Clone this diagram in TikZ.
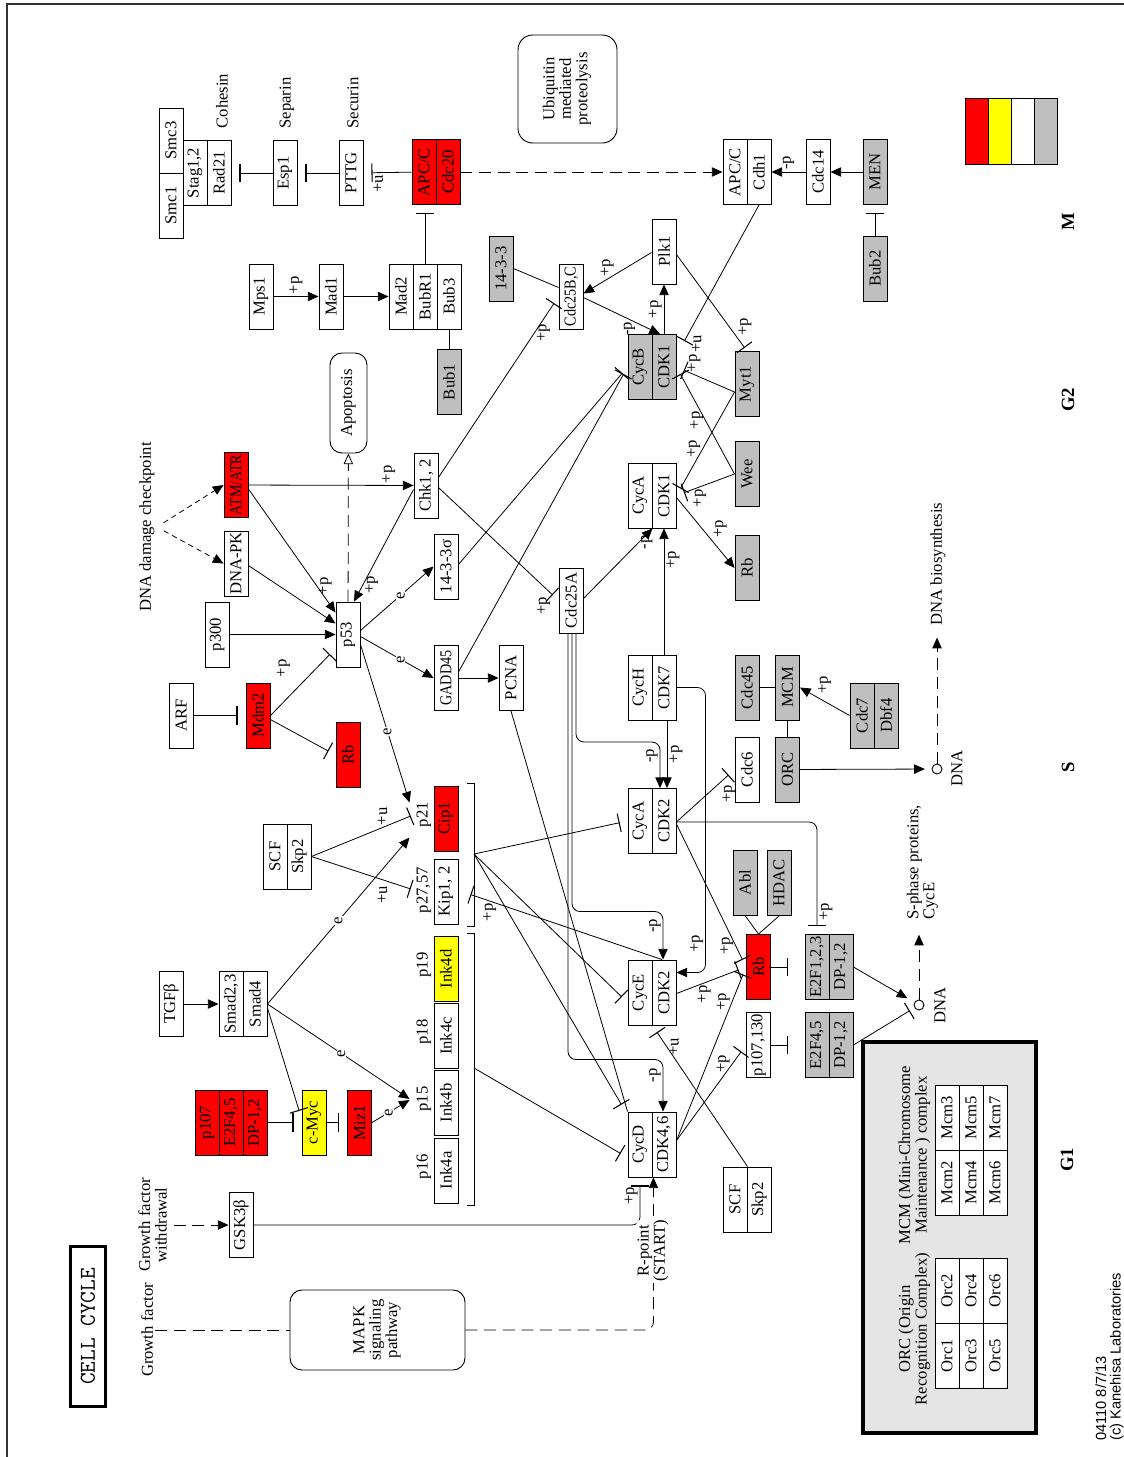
\documentclass[tikz,border=0pt]{standalone}
\usepackage{fontspec}
\setmainfont{Liberation Serif}
\newfontfamily\notefont{Liberation Sans}
\usetikzlibrary{arrows.meta,positioning,calc}
\definecolor{kred}{RGB}{255,0,0}
\definecolor{kyel}{RGB}{255,255,0}
\definecolor{kgray}{RGB}{191,191,191}
\definecolor{kpanel}{RGB}{229,229,229}
\definecolor{kframe}{RGB}{50,50,50}
\newcommand{\gfont}{\fontsize{12.5}{13.5}\selectfont}
\newcommand{\upt}[1]{\rotatebox{90}{#1}}
\newcommand{\upts}[1]{\rotatebox{90}{\scalebox{0.85}[1]{#1}}}
\newcommand{\uptc}[1]{\rotatebox{90}{\def\arraystretch{0.9}\begin{tabular}{@{}c@{}}#1\end{tabular}}}
\newcommand{\uptl}[1]{\rotatebox{90}{\def\arraystretch{0.9}\begin{tabular}{@{}l@{}}#1\end{tabular}}}
\tikzset{
  %% gene product boxes
  gbox/.style={draw,fill=white,line width=0.7pt,minimum width=18pt,
    minimum height=48.75pt,inner sep=0.5pt,font=\gfont},
  rbox/.style={gbox,fill=kred},
  ybox/.style={gbox,fill=kyel},
  gybox/.style={gbox,fill=kgray},
  %% pathway boxes
  pwbox/.style={draw,line width=0.7pt,rounded corners=9pt,inner sep=0pt,font=\gfont},
  titlebox/.style={draw,line width=2.2pt,minimum width=26pt,minimum height=120pt,
    inner sep=0pt,font=\ttfamily\fontsize{17}{18}\selectfont},
  dna/.style={circle,draw,line width=0.7pt,minimum size=7.5pt,inner sep=0pt},
  %% texts
  lbl/.style={font=\gfont,inner sep=1.5pt},
  elbl/.style={lbl,fill=white,inner sep=0.5pt},
  phase/.style={font=\fontsize{14}{16}\selectfont\bfseries},
  %% connectors
  act/.style={-{Triangle[length=8pt,width=7pt]},line width=0.6pt},
  inh/.style={-{Bar[width=14pt,line width=0.8pt]},line width=0.6pt,shorten >=6pt},
  dact/.style={act,dash pattern=on 9pt off 5pt},
  dline/.style={line width=0.6pt,dash pattern=on 9pt off 5pt},
  dshort/.style={act,dash pattern=on 4pt off 3pt},
  dopen/.style={-{Triangle[open,length=8pt,width=7pt]},line width=0.6pt,dash pattern=on 9pt off 5pt},
  plain/.style={line width=0.6pt},
  outerline/.style={line width=1.1pt,draw=kframe},
}
\begin{document}
\begin{tikzpicture}[x=0.75pt,y=-0.75pt]
  \useasboundingbox (0,0) rectangle (1124,1457);
  \draw[outerline] (7,1457) |- (1124,4);

  %% M phase
  \node[gbox] (Smc3) at (171,140.5) {\upt{Smc3}};
  \node[gbox] (Smc1) at (171,205.5) {\upt{Smc1}};
  \node[gbox] (Stag) at (195,173) {\upt{Stag1,2}};
  \node[gbox] (Rad21) at (219,173) {\upt{Rad21}};
  \node[lbl] (lcoh) at (222,101) {\upt{Cohesin}};
  \node[gbox] (Esp1) at (285,173) {\upt{Esp1}};
  \node[lbl] (lsep) at (287,103) {\upt{Separin}};
  \node[gbox] (PTTG) at (351,173) {\upt{PTTG}};
  \node[lbl] (lsec) at (353,103) {\upt{Securin}};
  \node[rbox] (APC1) at (424,172) {\upt{APC/C}};
  \node[rbox] (Cdc20) at (448,172) {\upt{Cdc20}};
  \node[pwbox,minimum width=74.25pt,minimum height=81pt,rounded corners=11pt] (ubq) at (567.5,89)
    {\uptc{Ubiquitin\\mediated\\proteolysis}};
  \node[gbox] (APC2) at (735,172) {\upt{APC/C}};
  \node[gbox] (Cdh1) at (759,172) {\upt{Cdh1}};
  \node[gbox] (Cdc14) at (818,172) {\upt{Cdc14}};
  \node[gybox] (MEN) at (875,172) {\upt{MEN}};
  \node[gybox] (Bub2) at (875,268.5) {\upt{Bub2}};
  \node[gbox] (Mps1) at (261,296.5) {\upt{Mps1}};
  \node[gbox] (Mad1) at (331,296.5) {\upt{Mad1}};
  \node[gbox] (Mad2) at (401,296.5) {\upt{Mad2}};
  \node[gbox] (BubR1) at (425,296.5) {\upt{BubR1}};
  \node[gbox] (Bub3) at (449,296.5) {\upt{Bub3}};
  \node[gybox] (Bub1) at (449,382) {\upt{Bub1}};
  \node[gybox] (s1433) at (501,268.5) {\upt{14-3-3}};
  \node[gbox] (Cdc25BC) at (571,296.5) {\upts{Cdc25B,C}};
  \node[gbox] (Plk1) at (664,251.5) {\upt{Plk1}};

  %% G2 phase
  \node[gybox] (CycB) at (640,367) {\upt{CycB}};
  \node[gybox] (CDK1a) at (664,367) {\upt{CDK1}};
  \node[gybox] (Myt1) at (747,384) {\upt{Myt1}};
  \node[gybox] (Wee) at (747,474) {\upt{Wee}};
  \node[gybox] (Rbg) at (747,568) {\upt{Rb}};
  \node[gbox] (CycA1) at (640,495.5) {\upt{CycA}};
  \node[gbox] (CDK1b) at (664,495.5) {\upt{CDK1}};
  \node[pwbox,minimum width=27.75pt,minimum height=75pt] (apop) at (348.5,403) {\upt{Apoptosis}};
  \node[lbl] (ldamage) at (147,527) {\upt{DNA damage checkpoint}};
  \node[rbox] (ATM) at (236,485) {\upts{ATM/ATR}};
  \node[gbox] (DNAPK) at (236,563.5) {\upt{DNA-PK}};
  \node[gbox] (p300) at (217,634.5) {\upt{p300}};
  \node[gbox] (p53) at (348,634.5) {\upt{p53}};
  \node[gbox] (ARF) at (181,715.5) {\upt{ARF}};
  \node[rbox] (Mdm2) at (258,715.5) {\upt{Mdm2}};
  \node[rbox] (Rb1) at (348,755) {\upt{Rb}};
  \node[gbox] (Chk) at (426,485.5) {\upt{Chk1, 2}};
  \node[gbox] (s1433s) at (446,566.5) {\upt{14-3-3σ}};
  \node[gbox] (GADD45) at (446,678) {\upts{GADD45}};
  \node[gbox] (PCNA) at (511,678) {\upt{PCNA}};
  \node[gbox] (Cdc25A) at (571,600.5) {\upt{Cdc25A}};
  \node[gbox] (CycH) at (640,687.5) {\upt{CycH}};
  \node[gbox] (CDK7) at (664,687.5) {\upt{CDK7}};

  %% S phase
  \node[gybox] (Cdc45) at (747,687.5) {\upt{Cdc45}};
  \node[gybox] (MCM) at (787.5,687.5) {\upt{MCM}};
  \node[gybox] (Cdc7) at (862,715.5) {\upt{Cdc7}};
  \node[gybox] (Dbf4) at (886,715.5) {\upt{Dbf4}};
  \node[gbox] (Cdc6) at (747,769.5) {\upt{Cdc6}};
  \node[gybox] (ORC) at (787.5,769.5) {\upt{ORC}};
  \node[dna] (dna1) at (937,769) {};
  \node[lbl] (ldna1) at (957,768) {\upt{DNA}};
  \node[lbl] (lbio) at (938,564) {\upt{DNA biosynthesis}};

  %% G1 phase
  \node[gbox] (SCF1) at (275,856.5) {\upt{SCF}};
  \node[gbox] (Skp2a) at (299,856.5) {\upt{Skp2}};
  \node[rbox] (Cip1) at (446,818.5) {\upt{Cip1}};
  \node[gbox] (Kip) at (446,891.5) {\upt{Kip1, 2}};
  \node[ybox] (Ink4d) at (446,969) {\upt{Ink4d}};
  \node[gbox] (Ink4c) at (446,1036) {\upt{Ink4c}};
  \node[gbox] (Ink4b) at (446,1103) {\upt{Ink4b}};
  \node[gbox] (Ink4a) at (446,1170.5) {\upt{Ink4a}};
  \node[lbl,left=0pt of Cip1,yshift=3pt] (lp21) {\upt{p21}};
  \node[lbl,left=0pt of Kip,yshift=1pt] (lp27) {\upt{p27,57}};
  \node[lbl,left=0pt of Ink4d,yshift=3pt] (lp19) {\upt{p19}};
  \node[lbl,left=0pt of Ink4c,yshift=3pt] (lp18) {\upt{p18}};
  \node[lbl,left=0pt of Ink4b,yshift=3pt] (lp15) {\upt{p15}};
  \node[lbl,left=0pt of Ink4a,yshift=3pt] (lp16) {\upt{p16}};
  \draw[plain] (467,783) -| (474,926) -- (467,926);
  \draw[plain] (467,933) -| (474,1205) -- (467,1205);
  \coordinate (br1) at (474,854);
  \coordinate (br2) at (474,1068);
  \node[gbox] (CycA2) at (640,821) {\upt{CycA}};
  \node[gbox] (CDK2a) at (664,821) {\upt{CDK2}};
  \node[gbox] (CycE) at (640,992.5) {\upt{CycE}};
  \node[gbox] (CDK2b) at (664,992.5) {\upt{CDK2}};
  \node[gbox] (CycD) at (640,1144.5) {\upt{CycD}};
  \node[gbox] (CDK46) at (664,1144.5) {\upt{CDK4,6}};
  \node[gybox] (Abl) at (745,882.5) {\upt{Abl}};
  \node[gybox] (HDAC) at (779,883) {\upt{HDAC}};
  \node[rbox] (Rb2) at (758.5,967) {\upt{Rb}};
  \node[gybox] (E2F123) at (817,967) {\upt{E2F1,2,3}};
  \node[gybox] (DPa) at (841,967) {\upt{DP-1,2}};
  \node[gbox] (p107) at (758.5,1045) {\upt{p107,130}};
  \node[gybox] (E2F45) at (817,1045) {\upt{E2F4,5}};
  \node[gybox] (DPb) at (841,1045) {\upt{DP-1,2}};
  \node[dna] (dna2) at (919,1005) {};
  \node[lbl] (ldna2) at (940,1005) {\upt{DNA}};
  \node[lbl,anchor=south] (lsph) at (923,922) {\uptl{S-phase proteins,\\CycE}};
  \node[gbox] (SCF2) at (735,1199.5) {\upt{SCF}};
  \node[gbox] (Skp2b) at (759,1199.5) {\upt{Skp2}};
  \node[gbox] (TGFb) at (171,1004) {\upt{TGFβ}};
  \node[gbox] (Smad23) at (231,1004) {\upt{Smad2,3}};
  \node[gbox] (Smad4) at (255,1004) {\upt{Smad4}};
  \node[rbox] (p107r) at (207,1122.5) {\upt{p107}};
  \node[rbox] (E2F45r) at (231,1122.5) {\upt{E2F4,5}};
  \node[rbox] (DPr) at (255,1122.5) {\upt{DP-1,2}};
  \node[ybox] (cMyc) at (314,1122.5) {\upt{c-Myc}};
  \node[rbox] (Miz1) at (359.5,1122.5) {\upt{Miz1}};
  \node[lbl] (lgfw) at (155,1225) {\uptc{Growth factor\\withdrawal}};
  \node[gbox] (GSK) at (241,1225) {\upt{GSK3β}};
  \node[lbl] (lgf) at (147,1330) {\upt{Growth factor}};
  \node[titlebox] (title) at (88,1326.5) {\upt{CELL CYCLE}};
  \node[pwbox,minimum width=131.25pt,minimum height=60pt] (MAPK) at (377.5,1330)
    {\uptc{MAPK\\signaling\\pathway}};

  %% ORC / MCM panel
  \node[draw,line width=2.5pt,fill=kpanel,minimum width=129.75pt,minimum height=293.25pt] (panel) at (949.5,1237.5) {};
  \foreach \n/\x/\y in {1/947/1355.5,2/947/1290.5,3/971/1355.5,4/971/1290.5,5/995/1355.5,6/995/1290.5}
    \node[gbox] (orc\n) at (\x,\y) {\upt{Orc\n}};
  \foreach \n/\x/\y in {2/947/1182.5,3/947/1117.5,4/971/1182.5,5/971/1117.5,6/995/1182.5,7/995/1117.5}
    \node[gbox] (mcm\n) at (\x,\y) {\upt{Mcm\n}};
  \node[lbl] (lorc) at (915,1329) {\uptc{ORC (Origin\\Recognition Complex)}};
  \node[lbl] (lmcm) at (915,1155) {\uptc{MCM (Mini-Chromosome\\Maintenance ) complex}};

  %% legend, phases, footer
  \foreach \c [count=\i from 0] in {kred,kyel,white,kgray}
    \draw[fill=\c,line width=0.7pt] ({965+23*\i},98) rectangle ++(23,66);
  \node[phase] (phM) at (1068,222) {\upt{M}};
  \node[phase] (phG2) at (1068,400) {\upt{G2}};
  \node[phase] (phS) at (1068,767) {\upt{S}};
  \node[phase] (phG1) at (1067,1160) {\upt{G1}};
  \node[lbl,anchor=south,font=\notefont\fontsize{11}{10.5}\selectfont] (foot) at (1110,1443)
    {\uptl{04110 8/7/13\\(c) Kanehisa Laboratories}};

  %% connectors: M phase
  \draw[inh] (Esp1) -- (Rad21);
  \draw[inh] (PTTG) -- (Esp1);
  \draw[inh] (APC1) -- (PTTG) node[lbl,pos=0.69,below] {\upt{+u}};
  \draw[dact] (Cdc20) -- (APC2);
  \draw[inh] (BubR1) -- (BubR1 |- APC1.south);
  \draw[act] (Mps1) -- (Mad1) node[lbl,midway,above] {\upt{+p}};
  \draw[act] (Mad1) -- (Mad2);
  \draw[plain] (Bub3) -- (Bub1);
  \draw[act] (Cdc14) -- (Cdh1) node[lbl,midway,above] {\upt{-p}};
  \draw[act] (MEN) -- (Cdc14);
  \draw[inh] (Bub2) -- (MEN);
  \draw[plain] (s1433.east) -- ($(Cdc25BC.west)+(0,-9)$);
  \draw[act] ($(Plk1.west)+(0,1)$) -- ($(Cdc25BC.east)+(0,-3)$) node[lbl,pos=0.65,above] {\upt{+p}};
  \draw[act] ($(Cdc25BC.east)+(0,1)$) -- ($(CDK1a.north)+(-4,0)$) node[lbl,pos=0.6,below] {\upt{-p}};
  \draw[act] (CDK1a) -- (Plk1) node[lbl,midway,left] {\upt{+p}};
  \draw[inh,shorten >=3pt] ($(Plk1.east)+(0,3)$) -- (Myt1.north) node[lbl,pos=0.75,right=5pt] {\upt{+p}};
  \draw[inh] (Cdh1.south) -- ($(CDK1a.north east)+(4,14)$) node[lbl,pos=0.97,right=5pt] {\upt{+u}};

  %% connectors: G2 phase
  \draw[inh] ($(Myt1.west)+(0,8)$) -- (CDK1a.east) node[lbl,pos=0.7,above] {\upt{+p}};
  \draw[inh] (Wee.west) -- (CDK1a.east) node[lbl,pos=0.5,left] {\upt{+p}};
  \draw[inh] ($(Myt1.west)+(0,8)$) -- (CDK1b.east) node[lbl,pos=0.55,left] {\upt{+p}};
  \draw[inh] (Wee.west) -- (CDK1b.east) node[lbl,pos=0.6,below] {\upt{+p}};
  \draw[act] (ATM) -- (Chk) node[lbl,pos=0.85,above] {\upt{+p}};
  \draw[act] ($(ATM.east)+(0,4)$) -- ($(p53.west)+(0,-22)$) node[lbl,pos=0.88,above] {\upt{+p}};
  \draw[act] ($(DNAPK.east)+(0,2)$) -- ($(p53.west)+(0,-11)$);
  \draw[act] (p300) -- (p53);
  \draw[inh] (Mdm2.east) -- ($(p53.west)+(0,14)$) node[lbl,pos=0.2,above=17pt] {\upt{+p}};
  \draw[act] ($(Chk.west)+(0,4)$) -- ($(p53.north)+(6,0)$) node[lbl,pos=0.85,right] {\upt{+p}};
  \draw[dopen] (p53) -- (apop);
  \draw[dshort,shorten <=6pt] (ldamage.east) -- (ATM.west);
  \draw[dshort,shorten <=6pt] (ldamage.east) -- (DNAPK.west);
  \draw[inh] (ARF) -- (Mdm2);
  \draw[inh] ($(Mdm2.east)+(0,4)$) -- (Rb1.west);
  \draw[act] ($(p53.east)+(0,-4)$) -- (s1433s.west) node[elbl,pos=0.55] {\upt{e}};
  \draw[act] ($(p53.east)+(0,2)$) -- (GADD45.west) node[elbl,pos=0.55] {\upt{e}};
  \draw[act] ($(p53.east)+(0,10)$) -- ($(Cip1.west)+(-24,-16)$) node[elbl,pos=0.55] {\upt{e}};
  \draw[inh] ($(Chk.east)+(0,-8)$) -- (Cdc25BC.west) node[lbl,pos=0.8,right] {\upt{+p}};
  \draw[inh] ($(Chk.east)+(0,2)$) -- (Cdc25A.west) node[lbl,pos=0.95,below left] {\upt{+p}};
  \draw[inh] ($(s1433s.east)+(0,-2)$) -- (CycB.west);
  \draw[inh] ($(GADD45.east)+(0,-6)$) -- (CycB.west);
  \draw[act] (GADD45) -- (PCNA);
  \draw[act] ($(Cdc25A.east)+(0,-2)$) -- (CycA1.south east) node[lbl,pos=0.8,right] {\upt{-p}};
  \draw[act] (CDK7) -- (CDK1b) node[lbl,pos=0.75,right] {\upt{+p}};
  \draw[act] ($(CDK1b.east)+(0,2)$) -- (Rbg.west) node[lbl,pos=0.6,above right] {\upt{+p}};

  %% connectors: S phase
  \draw[plain] (Cdc45) -- (MCM);
  \draw[act] (Cdc7.west) -- (MCM.east) node[lbl,midway,above=4pt] {\upt{+p}};
  \draw[plain] (MCM) -- (ORC);
  \draw[act,shorten >=5pt] (ORC) -- (dna1);
  \draw[dact,shorten >=7.5pt] (dna1) -- (dna1 |- lbio.south);
  \draw[inh] ($(CDK2a.east)+(0,1)$) -- (Cdc6.west) node[lbl,pos=0.75,below right] {\upt{+p}};
  \draw[inh,rounded corners=6pt] ($(CDK2a.east)+(0,1)$) -| (E2F123.north) node[lbl,pos=0.9,right] {\upt{+p}};

  %% connectors: G1 phase
  \draw[inh] ($(CDK2a.east)+(0,3)$) -- (Rb2.west) node[lbl,pos=0.85,left] {\upt{+p}};
  \draw[inh] ($(CDK2b.east)+(0,1)$) -- (Rb2.west) node[lbl,pos=0.4,below] {\upt{+p}};
  \draw[inh] ($(CDK46.east)+(0,-4)$) -- (Rb2.west) node[lbl,pos=0.8,left] {\upt{+p}};
  \draw[inh] ($(CDK46.east)+(0,-4)$) -- (p107.west) node[lbl,pos=0.8,left] {\upt{+p}};
  \draw[act] ($(CDK7.south)+(3,0)$) -- ($(CDK2a.north)+(3,0)$) node[lbl,midway,right] {\upt{+p}};
  \draw[act,rounded corners=6pt] (CDK7.east) -- ++(29,0) |- ($(CDK2b.east)+(0,-20)$)
    node[lbl,pos=0.45,left] {\upt{+p}};
  \draw[act,rounded corners=6pt] ($(Cdc25A.south)+(5,0)$) |- ($(CDK2a.north)+(-4,-46)$)
    -- ($(CDK2a.north)+(-4,0)$) node[lbl,pos=0.3,left] {\upt{-p}};
  \draw[act,rounded corners=6pt] ($(Cdc25A.south)+(1,0)$) |- ($(CDK2b.north)+(-1,-48)$)
    -- ($(CDK2b.north)+(-1,0)$) node[lbl,pos=0.3,left] {\upt{-p}};
  \draw[act,rounded corners=6pt] ($(Cdc25A.south)+(-3,0)$) |- ($(CDK46.north)+(-1,-52)$)
    -- ($(CDK46.north)+(-1,0)$) node[lbl,pos=0.3,left] {\upt{-p}};
  \draw[inh] (br1) -- (CycA2.west);
  \draw[inh] (br1) -- ($(CycE.west)+(0,10)$);
  \draw[inh] (br1) -- ($(CycD.north west)+(-2,0)$);
  \draw[inh] (br2) -- ($(CycD.west)+(0,13)$);
  \draw[plain] (PCNA.south) -- (CycD.north west);
  \draw[inh,shorten >=0pt] ($(CDK2b.north)+(-2,0)$) -- ($(Kip.east)+(12,3)$) node[lbl,pos=0.9,below] {\upt{+p}};
  \draw[inh,shorten >=3pt] (Skp2a.east) -- (lp21.west) node[lbl,pos=0.69,above] {\upt{+u}};
  \draw[inh,shorten >=3pt] (Skp2a.east) -- (lp27.west) node[lbl,pos=0.69,below=3pt] {\upt{+u}};
  \draw[act] (Smad4.east) -- ($(Cip1.west)+(-24,19)$) node[elbl,pos=0.5] {\upt{e}};
  \draw[act] (Smad4.east) -- ($(Ink4b.west)+(-24,-4)$) node[elbl,pos=0.52] {\upt{e}};
  \draw[inh] ($(Smad4.east)+(0,4)$) -- ($(cMyc.west)+(0,-4)$);
  \draw[inh] (DPr) -- (cMyc);
  \draw[inh] (cMyc) -- (Miz1);
  \draw[act] (Miz1.east) -- ($(Ink4b.west)+(-24,-3)$) node[elbl,pos=0.45] {\upt{e}};
  \draw[act] (TGFb) -- (Smad23);
  \draw[dact] (lgfw) -- (GSK);
  \draw[inh,rounded corners=6pt] (GSK.east) -| (CycD.south) node[lbl,pos=0.81,left] {\upt{+p}};
  \draw[dline] (lgf) -- (MAPK);
  \draw[dact,rounded corners=6pt] (MAPK.east) -| ($(CycD.south east)+(1,0)$)
    node[lbl,fill=white,inner sep=1pt,pos=0.76] {\uptc{R-point\\(START)}};
  \draw[inh] (SCF2.north east) -- (CycE.south east) node[lbl,pos=0.85,right] {\upt{+u}};
  \draw[plain] (Abl.south) -- (Rb2.north);
  \draw[plain] (HDAC.south) -- (Rb2.north);
  \draw[inh,shorten >=12.5pt] (Rb2) -- (E2F123);
  \draw[inh,shorten >=12.5pt] (p107) -- (E2F45);
  \draw[act,shorten >=6pt] (DPa.east) -- (dna2);
  \draw[inh,shorten >=4pt] (DPb.east) -- (dna2);
  \draw[dact,shorten >=9.5pt] (dna2) -- (dna2 |- lsph.south);
\end{tikzpicture}
\end{document}
